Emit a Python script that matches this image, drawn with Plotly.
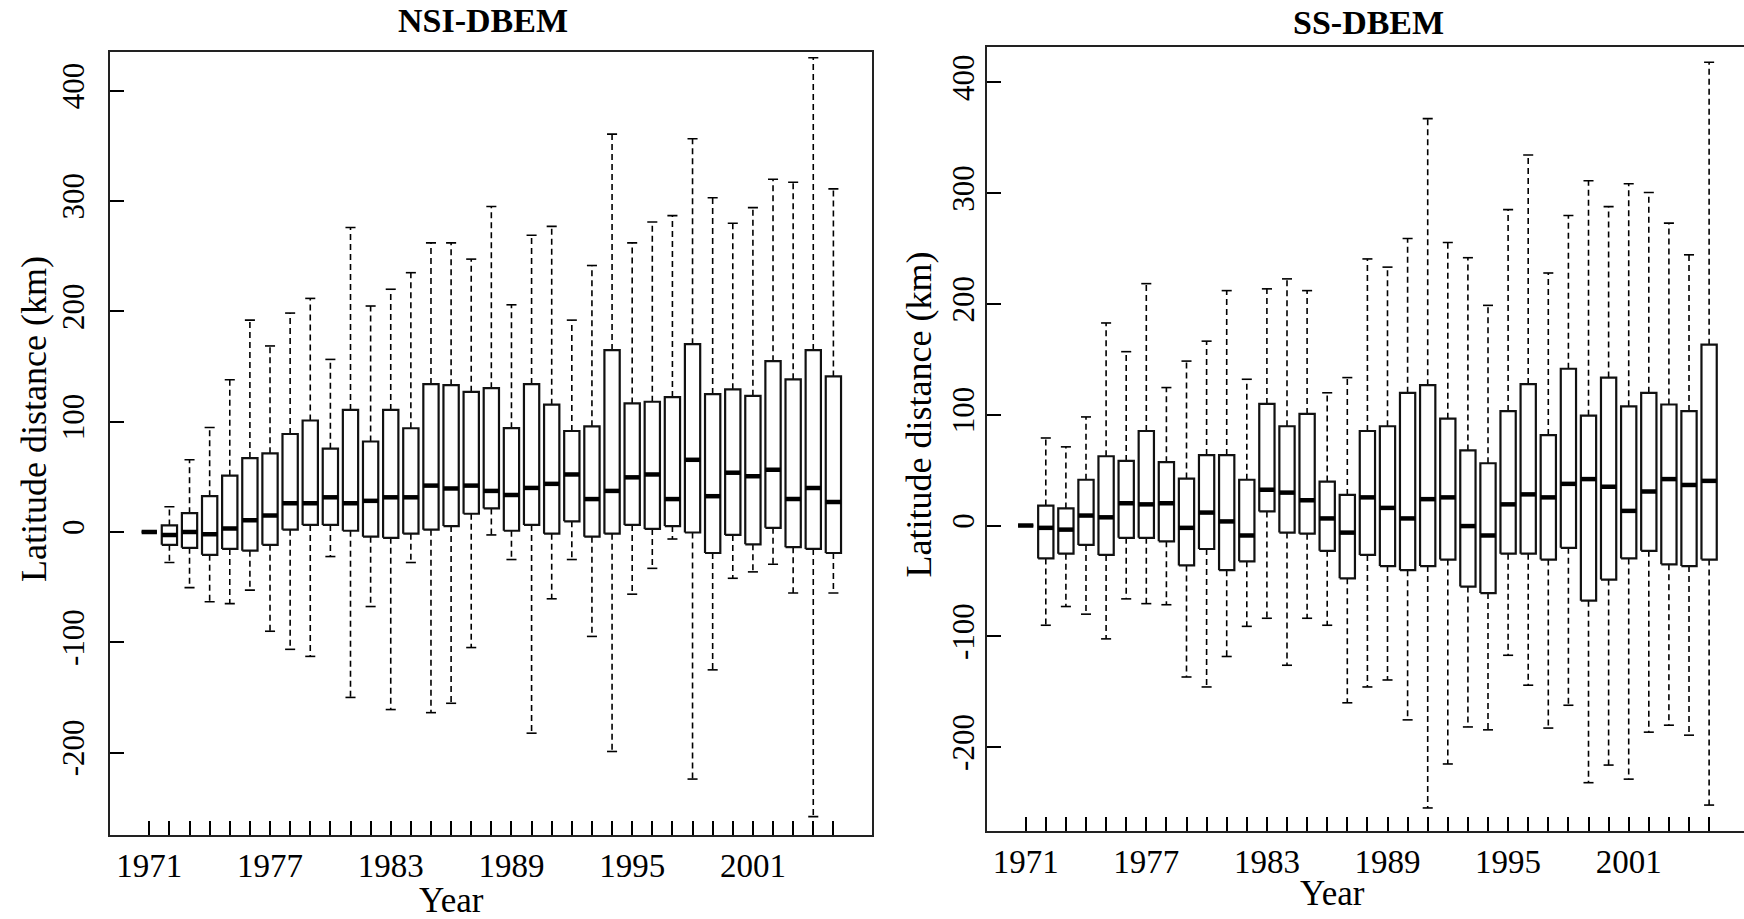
import plotly.graph_objects as go

years = list(range(1971, 2006))
tick_labels = ["1971", "1977", "1983", "1989", "1995", "2001"]
y_ticks = [-200, -100, 0, 100, 200, 300, 400]
y_tick_text = ["-200", "-100", "0", "100", "200", "300", "400"]

# NSI-DBEM panel
nsi_low = [0, -27.7, -50.5, -63.3, -65, -52.7, -90, -106.4, -112.8, -22.3, -150, -67.6,
           -161, -27.7, -163.8, -155.3, -104.8, -2.7, -25, -182.4, -60.6, -25, -94.7, -199,
           -56.4, -33, -6.4, -224, -125, -42, -36.2, -29.3, -55.3, -258, -55.3]
nsi_q1 = [0, -11.7, -14.4, -20.7, -15.4, -17, -11.7, 2.1, 6.4, 6.4, 1.1, -4.3,
          -5.3, -1.6, 2.1, 5.3, 16.5, 21.3, 1.1, 6.4, -1.6, 9.6, -4.3, -1.6,
          6.4, 2.7, 5.3, -0.5, -19.1, -2.7, -11.2, 3.7, -13.8, -15.4, -19.1]
nsi_med = [0, -2.7, 0, -2.1, 3.2, 10.6, 14.9, 26, 26, 31.4, 26, 28.2,
           31.4, 31.4, 42, 39.4, 42, 37.2, 33.5, 39.9, 43.6, 52.1, 29.8, 37.2,
           49.5, 52.1, 29.8, 65.4, 32.4, 53.7, 50.5, 56.4, 29.8, 39.9, 27.1]
nsi_q3 = [0, 5.9, 17, 32.4, 51, 67, 71.3, 88.8, 101, 75.5, 110.6, 82,
          110.6, 94, 134, 133, 127, 130.3, 94.1, 134, 115.4, 91.5, 95.7, 164.9,
          116.5, 118, 122.3, 170.2, 125, 129.3, 123.4, 154.8, 138.3, 164.9, 141]
nsi_high = [0, 22.9, 65.4, 94.7, 138, 192, 168.6, 198.4, 211.7, 156.4, 276, 204.8,
            220, 235, 262, 262, 247.3, 295, 205.9, 269, 277, 192, 241.5, 360.6,
            262, 280.9, 286.7, 356.4, 303, 279.8, 294, 319.7, 317, 429.8, 311]

# SS-DBEM panel
ss_low = [0, -90, -73.1, -80, -102.3, -66.2, -70.5, -71.5, -136.7, -145.7, -118.2, -91,
          -83.7, -126.1, -83.7, -90, -160, -145.7, -139.4, -175.4, -254.9, -215.2, -181.8, -184.4,
          -117.1, -144.1, -182.8, -162.2, -232.1, -216.2, -228.9, -186.5, -180.2, -189.2, -252.3]
ss_q1 = [0, -29.7, -25.4, -17.5, -26.5, -11.1, -11.1, -14.3, -36, -21.2, -40.3, -32.3,
         12.7, -6.4, -7.4, -22.8, -47.7, -26.5, -36.6, -40.3, -36.6, -30.7, -55.1, -61,
         -25.4, -25.4, -30.7, -20.1, -67.8, -48.8, -29.7, -22.8, -35, -36.6, -30.7]
ss_med = [0, -2.1, -3.7, 9, 7.4, 20.1, 19.1, 20.1, -2.1, 11.7, 3.7, -9,
          32.3, 29.7, 22.8, 6.4, -6.4, 25.4, 15.9, 6.4, 23.8, 25.4, -0.5, -9,
          19.1, 28.1, 25.4, 37.6, 41.9, 35, 13.2, 30.7, 41.9, 36.6, 40.3]
ss_q3 = [0, 18, 15.4, 41.3, 62.5, 58.3, 85.3, 57.2, 42.4, 63.6, 63.6, 41.3,
         109.7, 89.6, 100.7, 39.7, 27.6, 85.3, 89.6, 119.8, 126.7, 96.4, 67.8, 56.2,
         103.3, 127.7, 81.6, 141.5, 99.1, 133.5, 107.6, 119.8, 109.2, 103.3, 163.2]
ss_high = [0, 79, 71, 98, 182.8, 156.9, 218.3, 124.5, 148.4, 166.4, 212, 132,
           213.6, 222.6, 212, 119.8, 133.5, 240.6, 233.2, 259.1, 367.2, 255.4, 241.7, 198.7,
           285.1, 334.4, 227.9, 279.8, 311.1, 287.8, 308.4, 300.5, 272.9, 244.3, 418.1]

HW = 0.38   # half box width (x units)
CW = 0.25   # half cap width
FONT = "Liberation Serif"


def box_traces(lo, q1, med, q3, hi, xa, ya):
    bx, by, mx, my, wx, wy, cx, cy = [], [], [], [], [], [], [], []
    for yr, a, b, m, c, d in zip(years, lo, q1, med, q3, hi):
        bx += [yr - HW, yr + HW, yr + HW, yr - HW, yr - HW, None]
        by += [b, b, c, c, b, None]
        mx += [yr - HW, yr + HW, None]
        my += [m, m, None]
        wx += [yr, yr, None, yr, yr, None]
        wy += [c, d, None, b, a, None]
        cx += [yr - CW, yr + CW, None, yr - CW, yr + CW, None]
        cy += [d, d, None, a, a, None]
    common = dict(mode="lines", xaxis=xa, yaxis=ya, hoverinfo="skip", showlegend=False)
    return [
        go.Scatter(x=wx, y=wy, line=dict(color="black", width=1.6, dash="6px,4px"), **common),
        go.Scatter(x=cx, y=cy, line=dict(color="black", width=1.6), **common),
        go.Scatter(x=bx, y=by, fill="toself", fillcolor="white",
                   line=dict(color="#111", width=2.2), **common),
        go.Scatter(x=mx, y=my, line=dict(color="black", width=4.5), **common),
    ]


fig = go.Figure()
for t in box_traces(nsi_low, nsi_q1, nsi_med, nsi_q3, nsi_high, "x", "y"):
    fig.add_trace(t)
for t in box_traces(ss_low, ss_q1, ss_med, ss_q3, ss_high, "x2", "y2"):
    fig.add_trace(t)

W, H = 1744, 919


def px_x(p):
    return p / W


def px_y(p):
    return 1 - p / H


xtext = [str(y) if str(y) in tick_labels else "" for y in years]

xcommon = dict(tickmode="array", tickvals=years, ticktext=xtext, ticks="inside", ticklen=14,
               tickwidth=1.5, tickcolor="black", showline=True, linecolor="#222", linewidth=2,
               mirror=True, showgrid=False, zeroline=False,
               tickfont=dict(family=FONT, size=33, color="black"))
ycommon = dict(tickmode="array", tickvals=y_ticks, ticktext=y_tick_text, ticks="inside",
               ticklen=14, tickwidth=1.5,
               tickcolor="black", showline=True, linecolor="#222", linewidth=2,
               showgrid=False, zeroline=False, tickangle=-90,
               tickfont=dict(family=FONT, size=31, color="black"))

fig.update_layout(
    width=W, height=H, margin=dict(l=0, r=0, t=0, b=0),
    paper_bgcolor="white", plot_bgcolor="white", showlegend=False,
    font=dict(family=FONT, color="black"),
    xaxis=dict(domain=[px_x(110.3), px_x(872.3)], range=[1969.062, 2006.934],
               ticklabelstandoff=0, anchor="y", **xcommon),
    yaxis=dict(domain=[px_y(835), px_y(51.5)], range=[-274.7, 435.5], mirror=True,
               ticklabelstandoff=12, anchor="x", **ycommon),
    xaxis2=dict(domain=[px_x(986.5), 1.0], range=[1969.05, 2006.736],
                ticklabelstandoff=0, anchor="y2", **xcommon),
    yaxis2=dict(domain=[px_y(831), px_y(47.3)], range=[-275.7, 431.6], mirror=False,
                ticklabelstandoff=-2, anchor="x2", **ycommon),
)

ann = [
    dict(text="<b>NSI-DBEM</b>", x=px_x(483.3), y=px_y(20.9), size=34, angle=0),
    dict(text="<b>SS-DBEM</b>", x=px_x(1368.7), y=px_y(22), size=34, angle=0),
    dict(text="Year", x=px_x(451.8), y=px_y(900), size=35, angle=0),
    dict(text="Year", x=px_x(1332), y=px_y(893), size=35, angle=0),
    dict(text="Latitude distance (km)", x=px_x(34), y=px_y(419), size=36, angle=-90),
    dict(text="Latitude distance (km)", x=px_x(918), y=px_y(414.5), size=36, angle=-90),
]
for a in ann:
    fig.add_annotation(text=a["text"], x=a["x"], y=a["y"], xref="paper", yref="paper",
                       xanchor="center", yanchor="middle", showarrow=False,
                       textangle=a["angle"],
                       font=dict(family=FONT, size=a["size"], color="black"))

fig.write_html("out.html")
